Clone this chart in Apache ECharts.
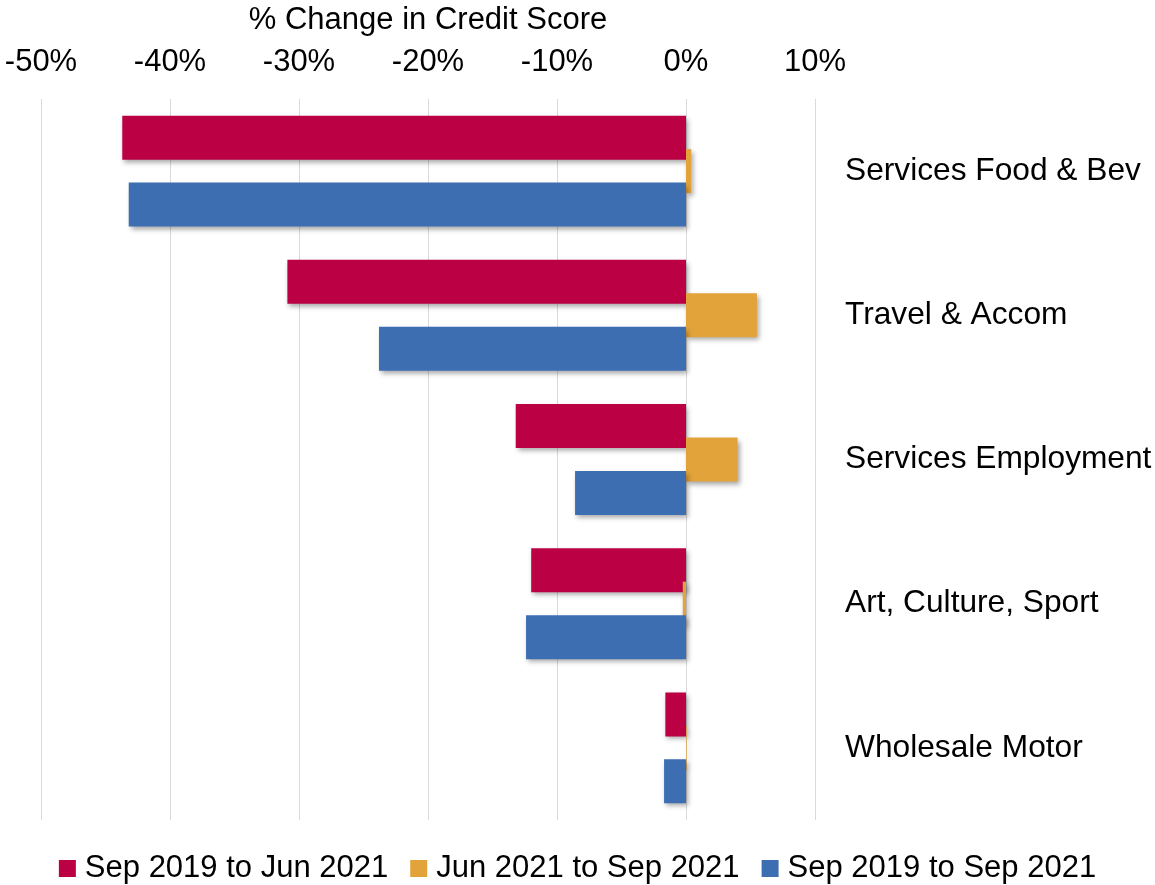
<!DOCTYPE html>
<html>
<head>
<meta charset="utf-8">
<script src="https://cdn.jsdelivr.net/npm/echarts@6/dist/echarts.min.js"></script>
<style>
  html, body { margin: 0; padding: 0; background: #fff; }
  #main { width: 1155px; height: 885px; }
</style>
</head>
<body>
<div id="main"></div>
<script>
var categories = ['Services Food & Bev', 'Travel & Accom', 'Services Employment', 'Art, Culture, Sport', 'Wholesale Motor'];
var sepToJun = [-43.7, -30.9, -13.2, -12.0, -1.6];
var junToSep = [0.4, 5.5, 4.0, -0.25, 0.05];
var sepToSep = [-43.2, -23.8, -8.6, -12.4, -1.7];

var font = "'Liberation Sans', Arial, sans-serif";
var shadow = {
    shadowBlur: 5,
    shadowOffsetX: 2,
    shadowOffsetY: 3,
    shadowColor: 'rgba(0,0,0,0.35)'
};

function barSeries(name, data, color) {
    return {
        name: name,
        type: 'bar',
        data: data,
        barWidth: 44,
        barGap: '-24%',
        itemStyle: Object.assign({ color: color }, shadow)
    };
}

var chart = echarts.init(document.getElementById('main'));
chart.setOption({
    animation: false,
    textStyle: { fontFamily: font },
    grid: { left: 41, right: 340, top: 95, bottom: 65, containLabel: false },
    legend: {
        bottom: -4,
        left: 'center',
        icon: 'rect',
        itemWidth: 17,
        itemHeight: 17,
        itemGap: 22,
        textStyle: { fontSize: 31, color: '#000', fontFamily: font, padding: [0, 0, 0, 4] }
    },
    xAxis: {
        type: 'value',
        position: 'top',
        min: -50,
        max: 10,
        interval: 10,
        name: '% Change in Credit Score',
        nameLocation: 'middle',
        nameGap: 63,
        nameTextStyle: { fontSize: 31, color: '#000', fontFamily: font },
        axisLine: { show: false },
        axisTick: { show: false },
        axisLabel: {
            fontSize: 31,
            color: '#000',
            margin: 21,
            fontFamily: font,
            formatter: function (v) { return v + '%'; }
        },
        splitLine: { lineStyle: { color: '#d9d9d9', width: 1 } }
    },
    yAxis: {
        type: 'category',
        data: categories,
        inverse: true,
        position: 'right',
        axisLine: { show: false },
        axisTick: { show: false },
        axisLabel: { fontSize: 31.7, color: '#000', margin: 30, align: 'left', fontFamily: font }
    },
    series: [
        barSeries('Sep 2019 to Jun 2021', sepToJun, '#bc0044'),
        barSeries('Jun 2021 to Sep 2021', junToSep, '#e2a33a'),
        barSeries('Sep 2019 to Sep 2021', sepToSep, '#3e6eb2')
    ]
});
</script>
</body>
</html>
